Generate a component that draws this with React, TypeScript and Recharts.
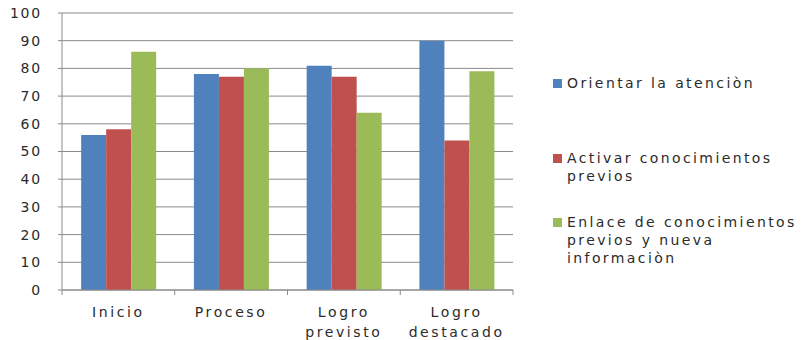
import React from "react";
import {
  BarChart,
  Bar,
  XAxis,
  YAxis,
  CartesianGrid,
  Legend,
} from "recharts";

const categories = ["Inicio", "Proceso", "Logro previsto", "Logro destacado"];
const orientar = [56, 78, 81, 90];
const activar = [58, 77, 77, 54];
const enlace = [86, 80, 64, 79];
const yTicks = [0, 10, 20, 30, 40, 50, 60, 70, 80, 90, 100];

const series = [
  { key: "orientar", name: "Orientar la atenciòn", color: "#4F81BD" },
  { key: "activar", name: "Activar conocimientos previos", color: "#C0504D" },
  { key: "enlace", name: "Enlace de conocimientos previos y nueva informaciòn", color: "#9BBB59" },
];

const data = categories.map((c, i) => ({
  name: c,
  orientar: orientar[i],
  activar: activar[i],
  enlace: enlace[i],
}));

const W = 804;
const H = 340;
const AXIS_W = 62;
const RIGHT = 291;
const BAND = (W - AXIS_W - RIGHT) / categories.length;
const FONT = "'DejaVu Sans', Verdana, sans-serif";
const TEXT = "#2b2b2b";
const GRID = "#8a8a8a";

// category label split over lines, plus Excel-style tick marks on the band edges
function CategoryTick(props: any) {
  const { x, y, payload, index } = props;
  const lines = String(payload.value).split(" ");
  const left = x - BAND / 2;
  return (
    <g>
      <line x1={left} y1={y} x2={left} y2={y + 5} stroke={GRID} />
      {index === categories.length - 1 && (
        <line x1={left + BAND} y1={y} x2={left + BAND} y2={y + 5} stroke={GRID} />
      )}
      <text
        x={x}
        y={y + 27}
        textAnchor="middle"
        fill={TEXT}
        fontSize={14}
        fontFamily={FONT}
        letterSpacing={2.6}
      >
        {lines.map((l, i) => (
          <tspan key={i} x={x} dy={i === 0 ? 0 : 20}>
            {l}
          </tspan>
        ))}
      </text>
    </g>
  );
}

const legendTops = [74, 149, 213];

function LegendBox() {
  return (
    <div style={{ position: "relative", width: 251, height: 1 }}>
      {series.map((s, i) => (
        <div
          key={s.key}
          style={{
            position: "absolute",
            left: 0,
            top: legendTops[i],
            display: "flex",
            alignItems: "flex-start",
          }}
        >
          <div
            style={{
              width: 9,
              height: 9,
              background: s.color,
              marginTop: 5,
              marginRight: 5,
              flex: "none",
            }}
          />
          <div
            style={{
              width: 237,
              fontFamily: FONT,
              fontSize: 14,
              lineHeight: "18px",
              letterSpacing: 2.4,
              color: TEXT,
            }}
          >
            {s.name}
          </div>
        </div>
      ))}
    </div>
  );
}

export default function App() {
  return (
    <div style={{ position: "absolute", left: 0, top: 0, width: W, height: H, background: "#fff" }}>
      <BarChart
        width={W}
        height={H}
        data={data}
        margin={{ top: 13, right: RIGHT, bottom: 0, left: 0 }}
        barCategoryGap="17%"
        barGap={0}
      >
        <CartesianGrid vertical={false} stroke={GRID} />
        <XAxis
          dataKey="name"
          height={50}
          axisLine={{ stroke: GRID }}
          tickLine={false}
          tickSize={0}
          tickMargin={0}
          interval={0}
          tick={<CategoryTick />}
        />
        <YAxis
          width={AXIS_W}
          domain={[0, 100]}
          ticks={yTicks}
          interval={0}
          axisLine={{ stroke: GRID }}
          tickLine={{ stroke: GRID }}
          tickSize={4}
          tickMargin={16}
          tick={{ fill: TEXT, fontSize: 14, fontFamily: FONT, letterSpacing: 1.8 }}
        />
        <Legend
          layout="horizontal"
          align="center"
          verticalAlign="middle"
          content={<LegendBox />}
          wrapperStyle={{ left: 553, top: 0, width: 251, height: 1 }}
        />
        {series.map((s) => (
          <Bar key={s.key} dataKey={s.key} name={s.name} fill={s.color} isAnimationActive={false} />
        ))}
      </BarChart>
    </div>
  );
}
